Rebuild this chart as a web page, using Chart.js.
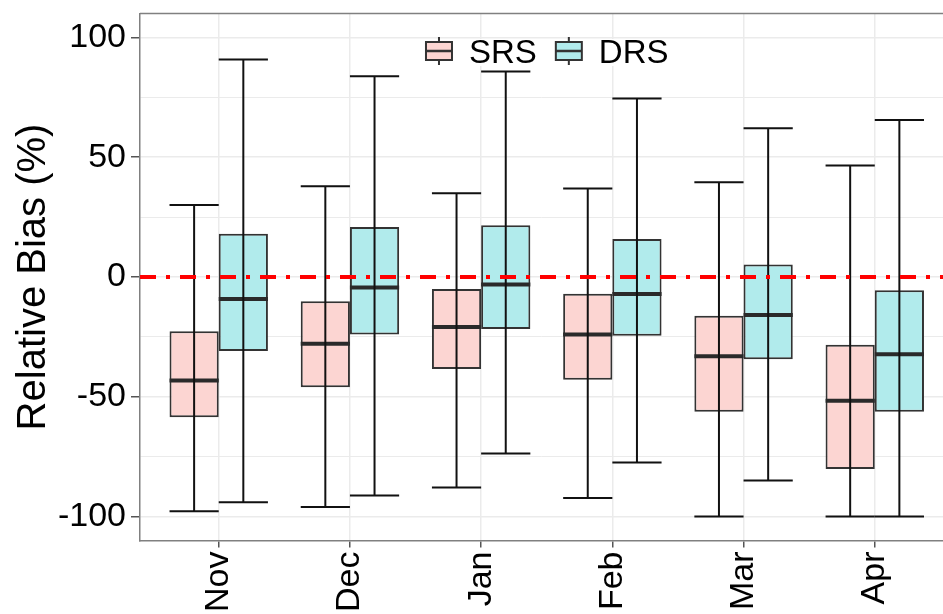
<!DOCTYPE html>
<html>
<head>
<meta charset="utf-8">
<script src="https://cdn.jsdelivr.net/npm/chart.js@4/dist/chart.umd.min.js"></script>
<style>
  html, body { margin: 0; padding: 0; background: #fff; overflow: hidden; }
  #wrap { width: 943px; height: 614px; }
</style>
</head>
<body>
<div id="wrap"><canvas id="chart" width="943" height="614"></canvas></div>
<script>
// data
const months = ['Nov', 'Dec', 'Jan', 'Feb', 'Mar', 'Apr'];
const srsMin = [-97.8, -96.0, -87.9, -92.3, -100, -100];
const srsQ1 = [-58.5, -46.0, -38.4, -42.9, -56.3, -80.2];
const srsMed = [-43.2, -27.9, -20.9, -24.0, -33.1, -51.7];
const srsQ3 = [-22.6, -10.1, -5.0, -7.0, -16.2, -28.3];
const srsMax = [30.1, 37.9, 35.0, 36.9, 39.6, 46.5];
const drsMin = [-94.0, -91.2, -73.7, -77.4, -85.0, -100];
const drsQ1 = [-30.9, -24.0, -21.7, -24.5, -34.3, -56.3];
const drsMed = [-9.2, -4.4, -3.1, -7.1, -15.9, -32.2];
const drsQ3 = [18.1, 20.9, 21.6, 15.9, 5.2, -5.5];
const drsMax = [90.8, 83.8, 85.8, 74.5, 62.1, 65.5];
const yMajor = [-100, -50, 0, 50, 100];
const yMinor = [-75, -25, 25, 75];
const refValue = 0;

const FONT = '"Liberation Sans", Arial, Helvetica, sans-serif';
const srsFill = '#fcd5d2';
const drsFill = '#b1ebec';
const edge = '#333333';

// whiskers + median on top of each floating bar
const boxWhiskers = {
    id: 'boxWhiskers',
    afterDatasetDraw(chart, args) {
        const ds = chart.data.datasets[args.index];
        if (!ds.stats) return;
        const y = chart.scales.y;
        const ctx = chart.ctx;
        const area = chart.chartArea;
        ctx.save();
        ctx.beginPath();
        ctx.rect(area.left, area.top, area.right - area.left, area.bottom - area.top);
        ctx.clip();
        args.meta.data.forEach((bar, i) => {
            const half = bar.width / 2;
            const pMin = y.getPixelForValue(ds.stats.min[i]);
            const pMax = y.getPixelForValue(ds.stats.max[i]);
            const pMed = y.getPixelForValue(ds.stats.med[i]);
            ctx.strokeStyle = '#2a2a2a';
            ctx.lineWidth = 4;
            ctx.beginPath();
            ctx.moveTo(bar.x - half, pMed);
            ctx.lineTo(bar.x + half, pMed);
            ctx.stroke();
            ctx.strokeStyle = '#111';
            ctx.lineWidth = 2;
            ctx.beginPath();
            ctx.moveTo(bar.x, pMax);
            ctx.lineTo(bar.x, pMin);
            ctx.moveTo(bar.x - half, pMax);
            ctx.lineTo(bar.x + half, pMax);
            ctx.moveTo(bar.x - half, pMin);
            ctx.lineTo(bar.x + half, pMin);
            ctx.stroke();
        });
        ctx.restore();
    }
};

// legend drawn inside the panel, like ggplot's inset legend
const insetLegend = {
    id: 'insetLegend',
    afterDatasetsDraw(chart) {
        const ctx = chart.ctx;
        const items = chart.data.datasets.filter(d => d.stats);
        const fontSize = 33;
        ctx.save();
        ctx.font = fontSize + 'px ' + FONT;
        const icon = 28, gap = 16, sep = 18;
        const widths = items.map(d => icon + gap + ctx.measureText(d.label).width);
        const total = widths.reduce((a, b) => a + b, 0) + sep * (items.length - 1);
        const cx = chart.scales.x.getPixelForValue((months.length - 1) / 2);
        let x = cx - total / 2;
        const midY = 51;
        ctx.fillStyle = '#fff';
        ctx.fillRect(x - 5, 39, total + 10, 27);
        items.forEach((d, i) => {
            const ix = x + icon / 2;
            ctx.strokeStyle = edge;
            ctx.lineWidth = 2;
            ctx.beginPath();
            ctx.moveTo(ix, midY - 14); ctx.lineTo(ix, midY - 9);
            ctx.moveTo(ix, midY + 9); ctx.lineTo(ix, midY + 14);
            ctx.stroke();
            ctx.fillStyle = d.backgroundColor;
            ctx.fillRect(x + 1, midY - 9, icon - 2, 18);
            ctx.strokeRect(x + 1, midY - 9, icon - 2, 18);
            ctx.lineWidth = 2.5;
            ctx.beginPath();
            ctx.moveTo(x + 1, midY); ctx.lineTo(x + icon - 1, midY);
            ctx.stroke();
            ctx.fillStyle = '#000';
            ctx.textBaseline = 'alphabetic';
            ctx.textAlign = 'left';
            ctx.fillText(d.label, x + icon + gap, 63);
            x += widths[i] + sep;
        });
        ctx.restore();
    }
};

// top edge of the panel
const panelTop = {
    id: 'panelTop',
    afterDraw(chart) {
        const a = chart.chartArea;
        const ctx = chart.ctx;
        ctx.save();
        ctx.strokeStyle = '#808080';
        ctx.lineWidth = 1.5;
        ctx.beginPath();
        ctx.moveTo(a.left, a.top);
        ctx.lineTo(a.right, a.top);
        ctx.stroke();
        ctx.restore();
    }
};

const boxData = (q1, q3) => months.map((m, i) => ({ x: i, y: [q1[i], q3[i]] }));

new Chart(document.getElementById('chart'), {
    type: 'bar',
    data: {
        datasets: [
            {
                label: 'SRS',
                data: boxData(srsQ1, srsQ3),
                stats: { min: srsMin, med: srsMed, max: srsMax },
                backgroundColor: srsFill,
                borderColor: edge,
                borderWidth: 2,
                borderSkipped: false,
                order: 1
            },
            {
                label: 'DRS',
                data: boxData(drsQ1, drsQ3),
                stats: { min: drsMin, med: drsMed, max: drsMax },
                backgroundColor: drsFill,
                borderColor: edge,
                borderWidth: 2,
                borderSkipped: false,
                order: 1
            },
            {
                type: 'line',
                label: 'ref',
                data: [{ x: -0.6, y: refValue }, { x: 5.52, y: refValue }],
                borderColor: '#ff0000',
                borderWidth: 4,
                borderDash: [16, 10, 4, 10],
                pointRadius: 0,
                order: 0
            }
        ]
    },
    options: {
        responsive: false,
        animation: false,
        devicePixelRatio: 1,
        layout: { padding: { top: 13.5, left: 0, right: 0, bottom: 0 } },
        datasets: {
            bar: { categoryPercentage: 0.75, barPercentage: 1, grouped: true }
        },
        scales: {
            x: {
                type: 'linear',
                min: -0.6,
                max: 5.52,
                offset: false,
                afterBuildTicks: s => { s.ticks = months.map((m, i) => ({ value: i })); },
                afterFit: s => { s.height = 73.5; s.paddingLeft = 0; s.paddingRight = 0; },
                ticks: {
                    autoSkip: false,
                    minRotation: 90,
                    maxRotation: 90,
                    padding: 4,
                    color: '#000',
                    font: { family: FONT, size: 34 },
                    callback: v => months[v] ?? ''
                },
                grid: { offset: false, color: '#ebebeb', lineWidth: 1.5, tickLength: 7, tickColor: '#555', tickWidth: 1.5 },
                border: { color: '#808080', width: 1.5 }
            },
            y: {
                min: -110,
                max: 110,
                afterBuildTicks: s => {
                    s.ticks = yMajor.concat(yMinor).sort((a, b) => a - b).map(v => ({ value: v }));
                },
                afterFit: s => { s.width = 140; s.paddingTop = 0; s.paddingBottom = 0; },
                ticks: {
                    padding: 5,
                    color: '#000',
                    font: { family: FONT, size: 34 },
                    callback: v => yMajor.includes(v) ? String(v) : ''
                },
                grid: {
                    color: '#ebebeb',
                    lineWidth: c => (c.tick && yMajor.includes(c.tick.value)) ? 1.5 : 1,
                    tickLength: 9,
                    tickWidth: 1.5,
                    tickColor: c => (c.tick && yMajor.includes(c.tick.value)) ? '#555' : 'rgba(0,0,0,0)'
                },
                border: { color: '#808080', width: 1.5 },
                title: {
                    display: true,
                    text: 'Relative Bias (%)',
                    color: '#000',
                    font: { family: FONT, size: 40, lineHeight: 1 },
                    padding: { top: 14, bottom: 0 }
                }
            }
        },
        plugins: {
            tooltip: { enabled: false },
            legend: { display: false }
        }
    },
    plugins: [boxWhiskers, insetLegend, panelTop]
});
</script>
</body>
</html>
